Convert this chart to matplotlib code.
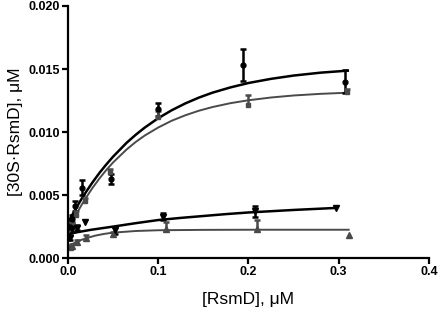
import matplotlib
matplotlib.use("Agg")
import matplotlib.pyplot as plt
import numpy as np

# measured points: x in uM, y in uM, error (nan = no error bar drawn)
circ_x = [0.002, 0.004, 0.008, 0.016, 0.048, 0.100, 0.194, 0.307]
circ_y = [0.0025, 0.0031, 0.0041, 0.0056, 0.0063, 0.0118, 0.0153, 0.0140]
circ_err = [0.0002, 0.0003, 0.0004, 0.0006, 0.0004, 0.0005, 0.00125, 0.0009]

sq_x = [0.002, 0.004, 0.009, 0.019, 0.047, 0.100, 0.200, 0.309]
sq_y = [0.0023, 0.0027, 0.0034, 0.0045, 0.0068, 0.0112, 0.01215, 0.0132]
sq_err = [0.0002, 0.0002, 0.0003, 0.0003, 0.0003, 0.0005, 0.0008, 0.0002]

inv_x = [0.002, 0.005, 0.010, 0.019, 0.052, 0.105, 0.207, 0.297]
inv_y = [0.0016, 0.0023, 0.0024, 0.0029, 0.0022, 0.0033, 0.0037, 0.0040]
inv_err = [0.0002, 0.0002, 0.0002, np.nan, 0.0003, 0.0003, 0.0004, np.nan]

tri_x = [0.002, 0.005, 0.010, 0.020, 0.050, 0.109, 0.209, 0.311]
tri_y = [0.0009, 0.0010, 0.0013, 0.0016, 0.0019, 0.0023, 0.0023, 0.0018]
tri_err = [0.0001, 0.0001, 0.0001, 0.0002, 0.0002, 0.0006, 0.0007, np.nan]

# fitted curves
fit_x = [0, 0.0025, 0.005, 0.01, 0.015, 0.02, 0.027, 0.035, 0.042, 0.05, 0.065,
         0.075, 0.085, 0.1, 0.115, 0.13, 0.145, 0.16, 0.18, 0.2, 0.225, 0.25,
         0.28, 0.31]
fit1_y = [0.0028, 0.00314, 0.00346, 0.00409, 0.00469, 0.00525, 0.00599, 0.00677,
          0.00739, 0.00805, 0.00915, 0.00978, 0.01035, 0.01110, 0.01173, 0.01227,
          0.01273, 0.01312, 0.01354, 0.01389, 0.01422, 0.01448, 0.01471, 0.01487]
fit2_y = [0.0022, 0.00256, 0.00291, 0.00358, 0.00421, 0.00479, 0.00555, 0.00633,
          0.00695, 0.00759, 0.00862, 0.00921, 0.00972, 0.01036, 0.01090, 0.01133,
          0.01169, 0.01198, 0.01229, 0.01252, 0.01274, 0.01290, 0.01303, 0.01312]

fit3_x = [0, 0.01, 0.025, 0.05, 0.075, 0.1, 0.125, 0.15, 0.175, 0.2, 0.25, 0.297]
fit3_y = [0.0019, 0.00205, 0.00224, 0.00250, 0.00277, 0.00302, 0.00319, 0.00334,
          0.00349, 0.00362, 0.00382, 0.00398]

fit4_x = [0, 0.0025, 0.005, 0.01, 0.015, 0.02, 0.03, 0.04, 0.05, 0.075, 0.1,
          0.15, 0.2, 0.311]
fit4_y = [0.0009, 0.00101, 0.00112, 0.00130, 0.00145, 0.00157, 0.00178, 0.00192,
          0.00202, 0.00215, 0.00221, 0.00224, 0.00225, 0.00225]

black = "#000000"
gray = "#4a4a4a"

plt.rcParams['font.family'] = ['Liberation Sans', 'DejaVu Sans']

fig = plt.figure(figsize=(4.4, 3.14), dpi=100)
ax = fig.add_axes([0.1545, 0.178, 0.8205, 0.803])

ax.plot(fit_x, fit1_y, color=black, lw=1.8)
ax.plot(fit_x, fit2_y, color=gray, lw=1.4)
ax.plot(fit3_x, fit3_y, color=black, lw=1.8)
ax.plot(fit4_x, fit4_y, color=gray, lw=1.4)

eb = dict(elinewidth=1.8, capsize=2.3, capthick=1.8)
ax.errorbar(circ_x, circ_y, yerr=circ_err, fmt='o', color=black, ms=3.5, **eb)
ax.errorbar(inv_x, inv_y, yerr=inv_err, fmt='v', color=black, ms=4, **eb)


def upper_bars(x, y, err, color):
    # gray series only show the upper half of the error bar
    top = np.array(y) + np.array(err)
    ax.vlines(x, y, top, color=color, lw=1.8)
    ax.plot(x, top, ls='none', marker='_', ms=4.6, mew=1.8, color=color)


upper_bars(sq_x, sq_y, sq_err, gray)
upper_bars(tri_x, tri_y, tri_err, gray)
ax.plot(sq_x, sq_y, ls='none', marker='s', ms=3.5, color=gray)
ax.plot(tri_x, tri_y, ls='none', marker='^', ms=3.8, color=gray)

ax.set_xlim(0, 0.4)
ax.set_ylim(0, 0.020)
ax.set_xticks([0.0, 0.1, 0.2, 0.3, 0.4])
ax.set_xticklabels(['0.0', '0.1', '0.2', '0.3', '0.4'])
ax.set_yticks([0.0, 0.005, 0.010, 0.015, 0.020])
ax.set_yticklabels(['0.000', '0.005', '0.010', '0.015', '0.020'])
for lab in ax.get_xticklabels() + ax.get_yticklabels():
    lab.set_fontweight('bold')
    lab.set_fontsize(9)

ax.spines['top'].set_visible(False)
ax.spines['right'].set_visible(False)
ax.spines['left'].set_linewidth(1.6)
ax.spines['bottom'].set_linewidth(1.6)
ax.tick_params(direction='out', length=4, width=1.6, pad=2)

ax.set_xlabel('[RsmD], μM', fontsize=12.5, labelpad=10)
ax.set_ylabel('[30S·RsmD], μM', fontsize=12.5, labelpad=4)

fig.savefig('out.png', dpi=100)
